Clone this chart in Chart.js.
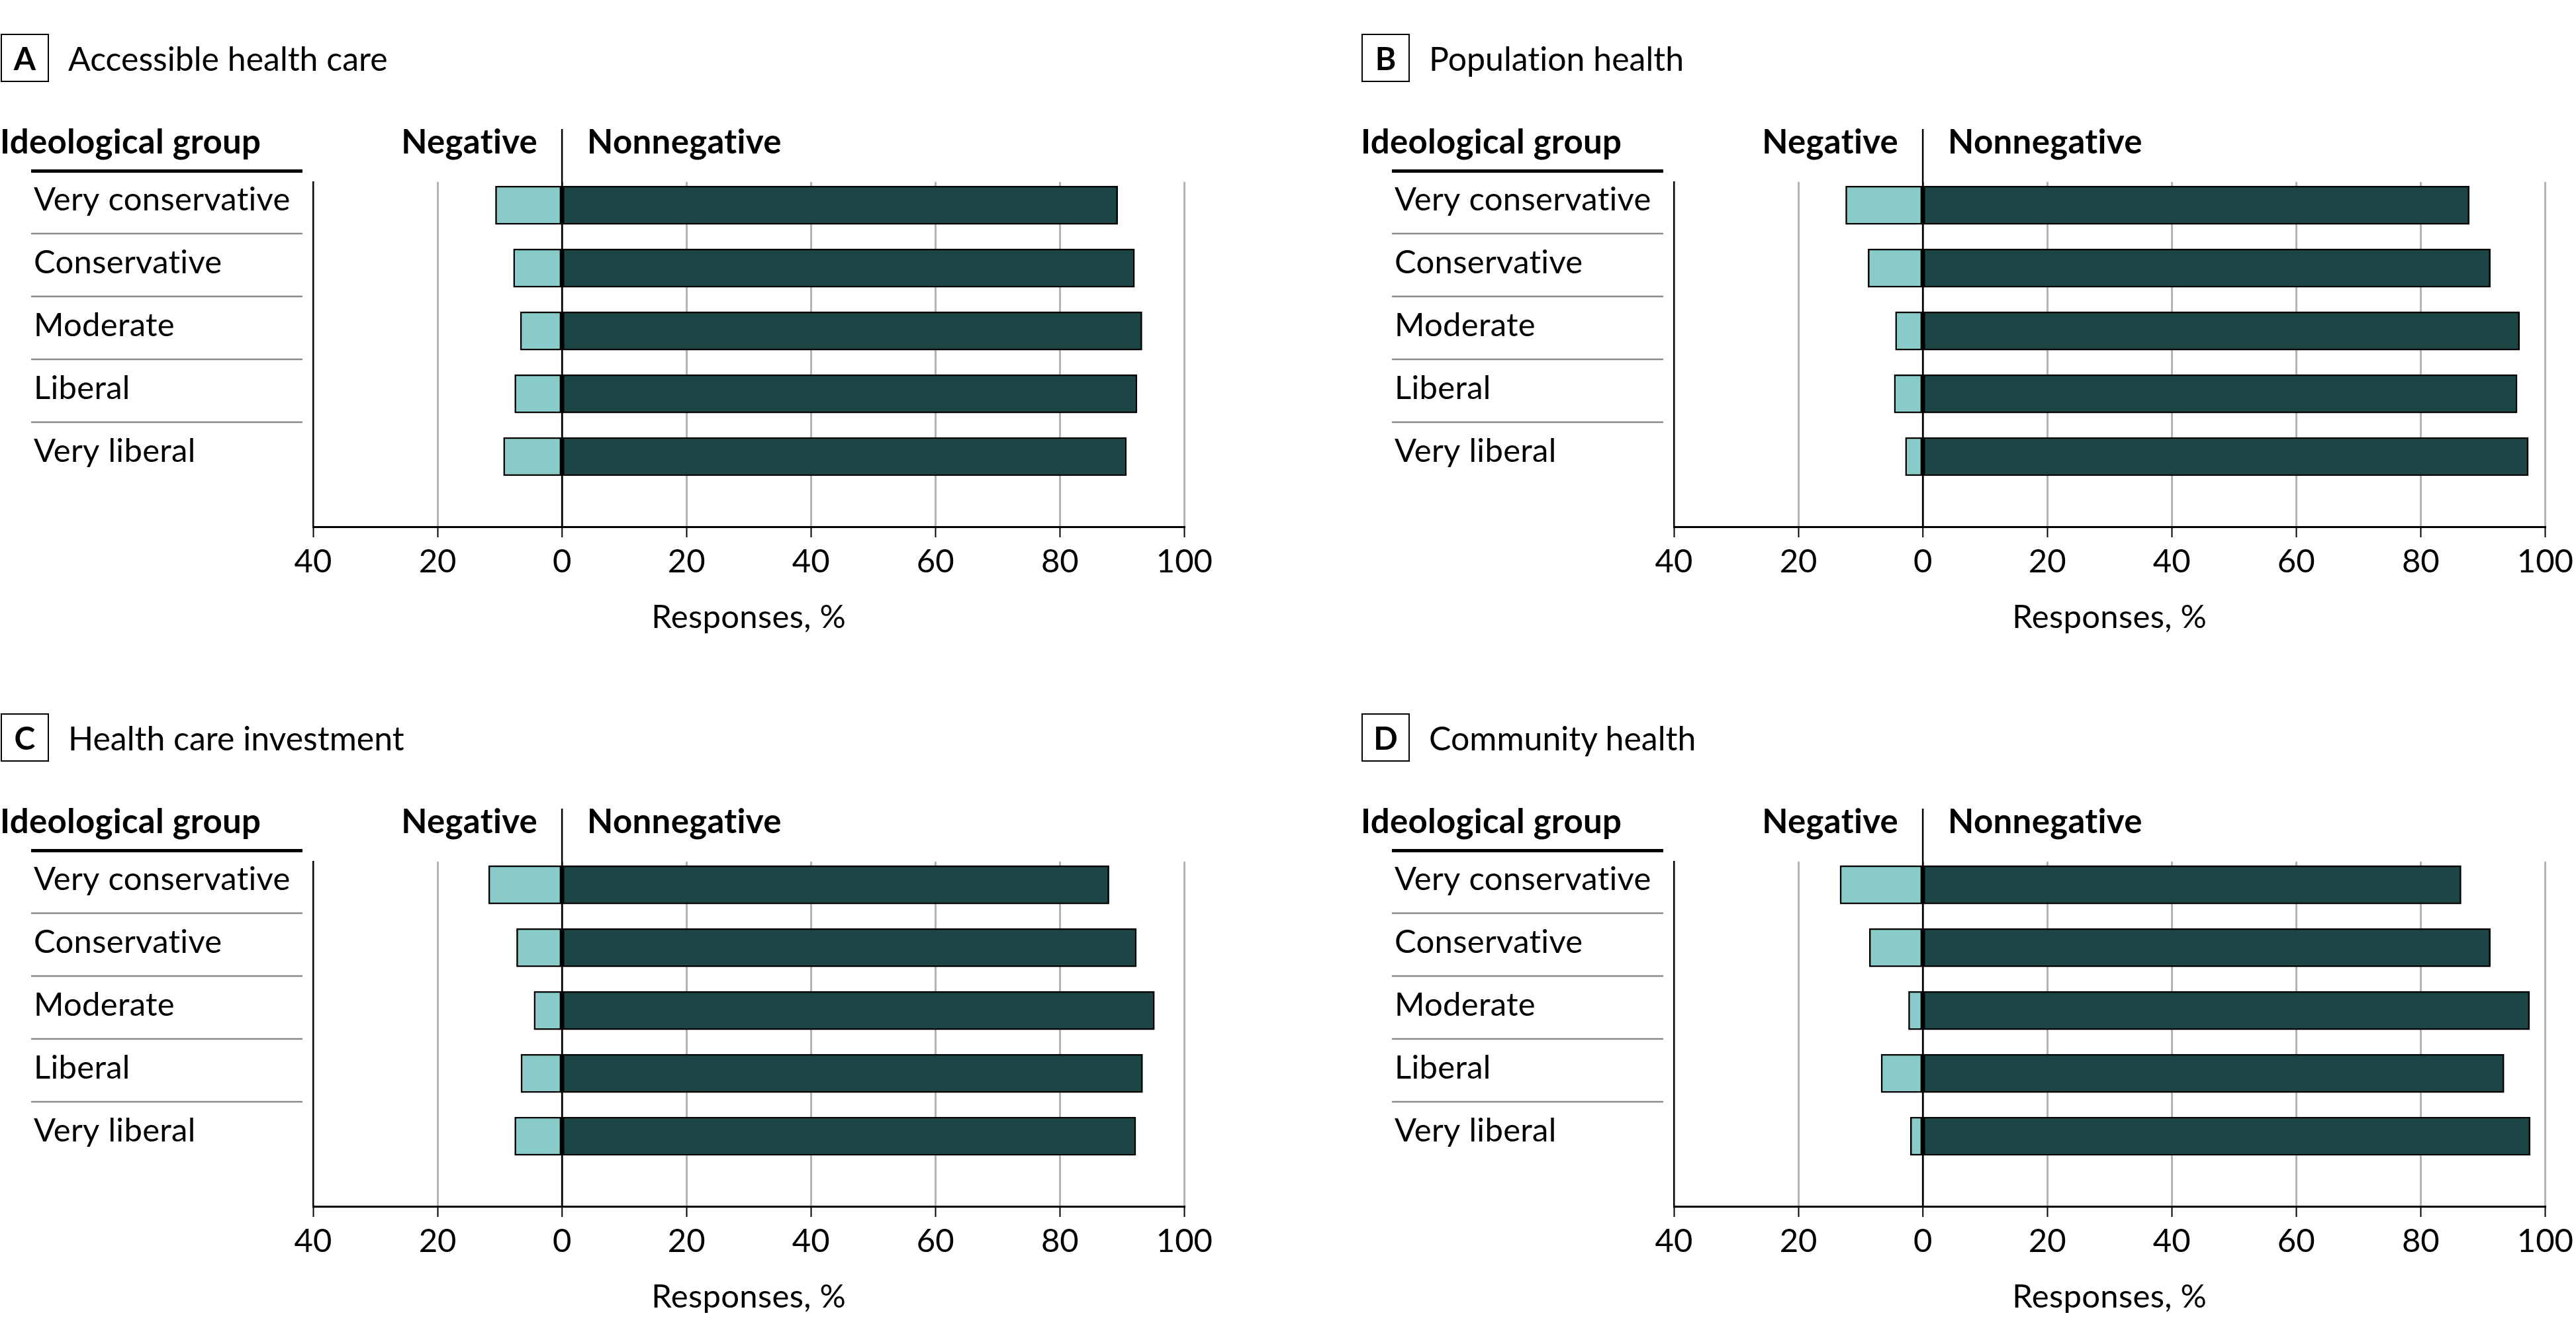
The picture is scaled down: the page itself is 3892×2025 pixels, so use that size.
<!DOCTYPE html>
<html>
<head>
<meta charset="utf-8">
<script src="https://cdn.jsdelivr.net/npm/chart.js@4.4.1/dist/chart.umd.min.js"></script>
<style>
  body { margin: 0; background: #fff; width: 3892px; height: 2025px; overflow: hidden; position: relative; font-family: Lato, sans-serif; font-variant-ligatures: none; }
  .panel { position: absolute; width: 1840px; height: 990px; }
  .panel canvas { position: absolute; left: 0; top: 0; }
  .head { position: absolute; left: 1px; top: 51px; height: 73px; display: flex; align-items: center; }
  .box { box-sizing: border-box; width: 73px; height: 73px; border: 2.5px solid #000; font-weight: bold; font-size: 48px; display: flex; align-items: center; justify-content: center; }
  .ttl { margin-left: 29px; font-size: 50px; color: #000; }
</style>
</head>
<body>
<script>
// Ideological groups (rows)
var groups = ["Very conservative", "Conservative", "Moderate", "Liberal", "Very liberal"];

// Panel letters and titles
var panelLetters = ["A", "B", "C", "D"];
var panelTitles = ["Accessible health care", "Population health", "Health care investment", "Community health"];

// Responses, % (negative shares drawn to the left of 0)
var accessibleNeg = [10.7, 7.8, 6.7, 7.6, 9.4];
var accessiblePos = [89.3, 92.0, 93.2, 92.4, 90.7];

var populationNeg = [12.4, 8.8, 4.4, 4.6, 2.8];
var populationPos = [87.8, 91.2, 95.9, 95.5, 97.3];

var investmentNeg = [11.8, 7.3, 4.5, 6.6, 7.6];
var investmentPos = [87.9, 92.3, 95.2, 93.3, 92.2];

var communityNeg = [13.3, 8.6, 2.3, 6.7, 2.0];
var communityPos = [86.5, 91.2, 97.5, 93.4, 97.6];

// x axis ticks
var tickValues = [-40, -20, 0, 20, 40, 60, 80, 100];

var negSeries = [accessibleNeg, populationNeg, investmentNeg, communityNeg];
var posSeries = [accessiblePos, populationPos, investmentPos, communityPos];
var offsets = [[0, 0], [2056, 0], [0, 1027], [2056, 1027]];

var lightTeal = "#88cbc9";
var darkTeal = "#1c4546";
var FONT = "Lato, sans-serif";

// draws the row labels, header texts and divider lines around the plot
var decor = {
  id: "decor",
  afterDraw: function (chart) {
    var ctx = chart.ctx;
    var xs = chart.scales.x, ys = chart.scales.y, area = chart.chartArea;
    var zeroX = xs.getPixelForValue(0);
    ctx.save();
    ctx.letterSpacing = "0.3px"; // keeps "ti" from turning into a ligature
    ctx.fillStyle = "#000";
    ctx.textBaseline = "alphabetic";

    // headers
    ctx.font = "bold 51px " + FONT;
    ctx.textAlign = "left";
    ctx.fillText("Ideological group", 0, 232);
    ctx.textAlign = "right";
    ctx.fillText("Negative", zeroX - 37, 232);
    ctx.textAlign = "left";
    ctx.fillText("Nonnegative", zeroX + 38, 232);
    ctx.fillRect(47, 256, 410, 5);

    // zero line
    ctx.strokeStyle = "#000";
    ctx.lineWidth = 2.5;
    ctx.beginPath();
    ctx.moveTo(zeroX, 195);
    ctx.lineTo(zeroX, area.bottom);
    ctx.stroke();

    // row labels
    ctx.font = "49px " + FONT;
    groups.forEach(function (g, i) {
      ctx.fillText(g, 51, ys.getPixelForValue(i) + 8);
    });

    // separators between rows
    ctx.strokeStyle = "#8a8a8a";
    ctx.lineWidth = 2.5;
    for (var i = 0; i < groups.length - 1; i++) {
      var yy = ys.getPixelForValue(i + 0.5) - 4.5;
      ctx.beginPath();
      ctx.moveTo(47, yy);
      ctx.lineTo(457, yy);
      ctx.stroke();
    }

    // x axis title
    ctx.font = "49px " + FONT;
    ctx.textAlign = "center";
    ctx.fillText("Responses, %", (area.left + area.right) / 2, 949);
    ctx.restore();
  }
};

panelLetters.forEach(function (letter, p) {
  var panel = document.createElement("div");
  panel.className = "panel";
  panel.style.left = offsets[p][0] + "px";
  panel.style.top = offsets[p][1] + "px";
  var canvas = document.createElement("canvas");
  canvas.width = 1840;
  canvas.height = 990;
  panel.appendChild(canvas);
  var head = document.createElement("div");
  head.className = "head";
  head.innerHTML = '<div class="box">' + letter + '</div><div class="ttl">' + panelTitles[p] + '</div>';
  panel.appendChild(head);
  document.body.appendChild(panel);

  new Chart(canvas, {
    type: "bar",
    data: {
      datasets: [{
        label: "Negative",
        data: negSeries[p].map(function (v, i) { return { x: -v, y: i }; }),
        backgroundColor: lightTeal
      }, {
        label: "Nonnegative",
        data: posSeries[p].map(function (v, i) { return { x: v, y: i }; }),
        backgroundColor: darkTeal
      }]
    },
    options: {
      indexAxis: "y",
      responsive: false,
      animation: false,
      devicePixelRatio: 1,
      layout: { padding: { left: 473, right: 47, top: 275, bottom: 94 } },
      datasets: {
        bar: {
          grouped: false,
          barThickness: 58,
          borderColor: "#000",
          borderWidth: 2.5,
          borderSkipped: false
        }
      },
      plugins: { legend: { display: false }, tooltip: { enabled: false } },
      scales: {
        x: {
          type: "linear",
          min: -40,
          max: 100,
          afterBuildTicks: function (s) { s.ticks = tickValues.map(function (v) { return { value: v }; }); },
          afterFit: function (s) { s.height = 100; },
          ticks: {
            color: "#000",
            font: { family: FONT, size: 49 },
            padding: 8,
            maxRotation: 0,
            callback: function (v) { return Math.abs(v); }
          },
          grid: {
            color: function (c) { return c.tick.value === 0 ? "#000" : (c.tick.value === -40 ? "rgba(0,0,0,0)" : "#b4b4b4"); },
            lineWidth: function (c) { return c.tick.value === 0 ? 2.5 : 3; },
            tickColor: "#000",
            tickWidth: 2,
            tickLength: 16
          },
          border: { display: true, color: "#000", width: 3 }
        },
        y: {
          type: "linear",
          reverse: true,
          offset: false,
          min: -0.37,
          max: 5.116,
          afterFit: function (s) { s.width = 0; },
          ticks: { display: false },
          grid: { display: false, offset: false },
          border: { display: true, color: "#000", width: 2.5 }
        }
      }
    },
    plugins: [decor]
  });
});
</script>
</body>
</html>
